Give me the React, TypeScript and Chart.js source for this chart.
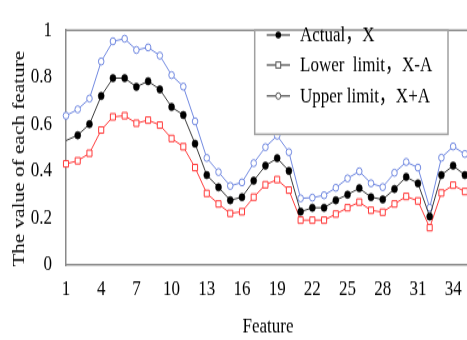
import React, { useEffect, useRef } from 'react';
import { Chart, registerables } from 'chart.js';

Chart.register(...registerables);

// ---------------- data ----------------
const FEATURES = [1, 2, 3, 4, 5, 6, 7, 8, 9, 10, 11, 12, 13, 14, 15, 16, 17, 18, 19, 20, 21, 22, 23, 24, 25, 26, 27, 28, 29, 30, 31, 32, 33, 34, 35];
const ACTUAL = [0.53, 0.553, 0.6, 0.72, 0.796, 0.796, 0.759, 0.783, 0.748, 0.673, 0.639, 0.517, 0.383, 0.331, 0.276, 0.289, 0.359, 0.423, 0.455, 0.401, 0.227, 0.244, 0.244, 0.276, 0.3, 0.327, 0.289, 0.279, 0.324, 0.375, 0.348, 0.207, 0.383, 0.423, 0.383];
const LOWER = [0.431, 0.444, 0.476, 0.575, 0.631, 0.636, 0.604, 0.617, 0.596, 0.539, 0.504, 0.415, 0.305, 0.26, 0.22, 0.227, 0.289, 0.342, 0.364, 0.319, 0.191, 0.191, 0.191, 0.217, 0.244, 0.268, 0.233, 0.225, 0.26, 0.292, 0.273, 0.159, 0.307, 0.34, 0.313];
const UPPER = [0.636, 0.663, 0.709, 0.867, 0.953, 0.964, 0.916, 0.927, 0.892, 0.809, 0.76, 0.612, 0.456, 0.396, 0.337, 0.352, 0.434, 0.502, 0.551, 0.481, 0.284, 0.287, 0.297, 0.329, 0.369, 0.399, 0.348, 0.332, 0.393, 0.439, 0.415, 0.244, 0.457, 0.505, 0.473];
const X_TICKS = [1, 4, 7, 10, 13, 16, 19, 22, 25, 28, 31, 34];
const Y_TICK_LABELS = ['0', '0.2', '0.4', '0.6', '0.8', '1'];
const SERIES_LABELS = ['Actual，X', 'Lower  limit，X-A', 'Upper limit，X+A'];
const X_TITLE = 'Feature';
const Y_TITLE = 'The value of each feature';

// ---------------- layout ----------------
const W = 500;
const SY = 1.25;
const H = 340 / SY;
const FONT = "'Times New Roman', 'Liberation Serif', 'Noto Sans CJK SC', serif";
const AXIS_COLOR = '#8a8a8a';

const toXY = (ys: number[]) => FEATURES.map((x, i) => ({ x, y: ys[i] }));

const overlayPlugin = {
  id: 'overlay',
  afterDraw(chart: any) {
    const { ctx, chartArea } = chart;
    ctx.save();
    // top frame line
    ctx.strokeStyle = AXIS_COLOR;
    ctx.lineWidth = 1.5;
    ctx.beginPath();
    ctx.moveTo(chartArea.left, chartArea.top);
    ctx.lineTo(chartArea.right, chartArea.top);
    ctx.stroke();

    // axis titles
    ctx.fillStyle = '#000';
    ctx.font = `17px ${FONT}`;
    ctx.textAlign = 'center';
    ctx.textBaseline = 'middle';
    ctx.fillText(X_TITLE, 268, 261.6);
    ctx.save();
    ctx.translate(20, 127);
    ctx.rotate(-Math.PI / 2);
    ctx.fillText(Y_TITLE, 0, 0);
    ctx.restore();

    // legend box
    const bx = 254.7, by = chartArea.top, bw = 193.3, bh = 83.2;
    ctx.fillStyle = '#fff';
    ctx.fillRect(bx, by, bw, bh);
    ctx.strokeStyle = '#a0a0a0';
    ctx.lineWidth = 1.5;
    ctx.strokeRect(bx, by, bw, bh);

    const rows = [28, 52, 76.8];
    chart.data.datasets.forEach((ds: any, i: number) => {
      const y = rows[i];
      ctx.strokeStyle = '#222';
      ctx.lineWidth = 1;
      ctx.beginPath();
      ctx.moveTo(266.7, y);
      ctx.lineTo(290, y);
      ctx.stroke();
      const mx = 278.3;
      if (i === 0) {
        ctx.fillStyle = '#000';
        ctx.beginPath();
        ctx.arc(mx, y, 2.8, 0, Math.PI * 2);
        ctx.fill();
      } else if (i === 1) {
        ctx.fillStyle = '#fff';
        ctx.strokeStyle = '#555';
        ctx.fillRect(mx - 2.4, y - 2.4, 4.8, 4.8);
        ctx.strokeRect(mx - 2.4, y - 2.4, 4.8, 4.8);
      } else {
        ctx.fillStyle = '#fff';
        ctx.strokeStyle = '#555';
        ctx.beginPath();
        ctx.arc(mx, y, 2.5, 0, Math.PI * 2);
        ctx.fill();
        ctx.stroke();
      }
      ctx.fillStyle = '#000';
      ctx.font = `17px ${FONT}`;
      ctx.textAlign = 'left';
      ctx.textBaseline = 'middle';
      ctx.fillText(ds.label, 300, y + 0.5);
    });
    ctx.restore();
  },
};

export default function App() {
  const ref = useRef<HTMLCanvasElement>(null);

  useEffect(() => {
    if (!ref.current) return;
    const chart = new Chart(ref.current, {
      type: 'line',
      data: {
        datasets: [
          {
            label: SERIES_LABELS[0],
            data: toXY(ACTUAL),
            borderColor: '#3a3a3a',
            borderWidth: 1,
            pointStyle: 'circle',
            pointRadius: (c: any) => (c.dataIndex === 0 ? 0 : 3),
            pointBackgroundColor: '#000',
            pointBorderColor: '#000',
            pointBorderWidth: 0.5,
            clip: false,
            order: 0,
          },
          {
            label: SERIES_LABELS[1],
            data: toXY(LOWER),
            borderColor: '#ff3a3a',
            borderWidth: 1,
            pointStyle: 'rect',
            pointRadius: 3.6,
            pointBackgroundColor: '#fff',
            pointBorderColor: '#ff3a3a',
            pointBorderWidth: 1,
            clip: false,
            order: 1,
          },
          {
            label: SERIES_LABELS[2],
            data: toXY(UPPER),
            borderColor: '#7088e0',
            borderWidth: 1,
            pointStyle: 'circle',
            pointRadius: 2.8,
            pointBackgroundColor: '#fff',
            pointBorderColor: '#7088e0',
            pointBorderWidth: 1,
            clip: false,
            order: 2,
          },
        ],
      },
      options: {
        responsive: false,
        animation: false,
        devicePixelRatio: 1,
        layout: { padding: { left: 0, top: 12, right: W - 476.6, bottom: 0 } },
        plugins: {
          legend: { display: false },
          tooltip: { enabled: false },
          title: { display: false },
        },
        scales: {
          x: {
            type: 'linear',
            min: 1,
            max: 36,
            grid: { display: false, drawTicks: false },
            border: { display: true, color: AXIS_COLOR, width: 1.5 },
            ticks: {
              color: '#000',
              font: { family: FONT, size: 17 },
              padding: 9,
              maxRotation: 0,
              autoSkip: false,
            },
            afterBuildTicks: (s: any) => {
              s.ticks = X_TICKS.map((v) => ({ value: v }));
            },
            afterFit: (s: any) => {
              s.height = H - 212;
            },
          },
          y: {
            type: 'linear',
            min: 0,
            max: 1,
            grid: { display: false, drawTicks: false },
            border: { display: true, color: AXIS_COLOR, width: 1.5 },
            ticks: {
              stepSize: 0.2,
              color: '#000',
              font: { family: FONT, size: 17 },
              padding: 14,
              callback: (_v: any, i: number) => Y_TICK_LABELS[i],
            },
            afterFit: (s: any) => {
              s.width = 66;
            },
          },
        },
      },
      plugins: [overlayPlugin],
    } as any);
    return () => chart.destroy();
  }, []);

  return (
    <div style={{ position: 'fixed', left: 0, top: 0, width: 467, height: 340, overflow: 'hidden', background: '#fff' }}>
      <div style={{ width: W, height: H, transform: `scaleY(${SY})`, transformOrigin: '0 0' }}>
        <canvas ref={ref} width={W} height={H} style={{ display: 'block', width: W, height: H }} />
      </div>
    </div>
  );
}
